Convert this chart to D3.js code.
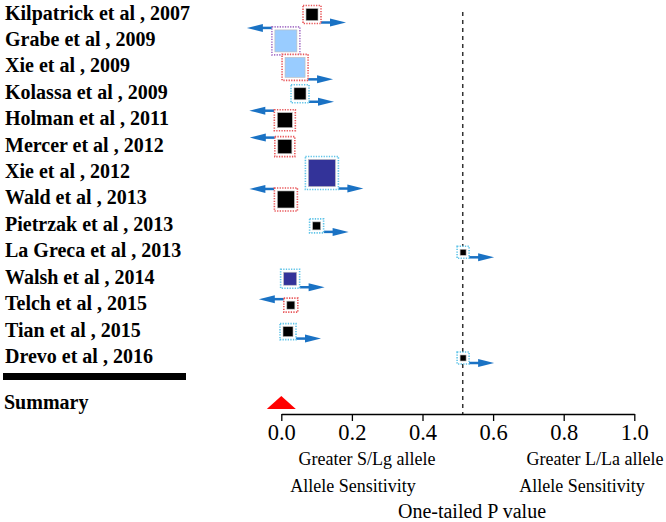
<!DOCTYPE html>
<html><head><meta charset="utf-8">
<script src="https://cdn.jsdelivr.net/npm/d3@7"></script>
<style>body{margin:0;background:#fff}svg{display:block}</style>
</head><body>
<script>
const studies = ["Kilpatrick et al , 2007","Grabe et al , 2009","Xie et al , 2009","Kolassa et al , 2009","Holman et al , 2011","Mercer et al , 2012","Xie et al , 2012","Wald et al , 2013","Pietrzak et al , 2013","La Greca et al , 2013","Walsh et al , 2014","Telch et al , 2015","Tian et al , 2015","Drevo et al , 2016"];
const pValues = [0.087,0.013,0.039,0.053,0.010,0.010,0.115,0.013,0.100,0.515,0.025,0.027,0.019,0.515];
const weights = [12,22,20,12,15,14,27,17,8,6,13,8,10,6];
const fillGroup = ["S","L","L","S","S","S","D","S","S","S","D","S","S","S"];
const boxGroup = ["r","p","r","c","r","r","c","r","c","c","c","r","c","c"];
const direction = ["right","left","right","right","left","left","right","left","right","right","right","left","right","right"];
const summaryP = 0.0;
const nullP = 0.514;
const xTicks = [0,0.2,0.4,0.6,0.8,1.0];

const W=666,H=522;
const svg=d3.select("body").append("svg").attr("width",W).attr("height",H);
const x=d3.scaleLinear().domain([0,1]).range([281.3,634.3]);
const y=d3.scalePoint().domain(studies).range([14.5,358]);
const size=d3.scaleLinear().domain([0,30]).range([0,30]);
const fillC=d3.scaleOrdinal().domain(["S","L","D"]).range(["#000000","#99ccff","#333399"]);
const boxC=d3.scaleOrdinal().domain(["r","p","c"]).range(["#e8575a","#a774c8","#5fc4e8"]);
const arrowC="#1a72c4";
const serif="Liberation Serif";

// labels
svg.append("g").selectAll("text").data(studies).join("text")
  .attr("x",5).attr("y",d=>y(d)+5).attr("font-family",serif).attr("font-weight","bold")
  .attr("font-size",20).attr("fill","#000").text(d=>d);
svg.append("rect").attr("x",3).attr("y",373).attr("width",183).attr("height",7).attr("fill","#000");
svg.append("text").attr("x",4).attr("y",409).attr("font-family",serif).attr("font-weight","bold")
  .attr("font-size",20).text("Summary");

// null line
svg.append("line").attr("x1",x(nullP)).attr("x2",x(nullP)).attr("y1",12).attr("y2",414)
  .attr("stroke","#333").attr("stroke-width",1.5).attr("stroke-dasharray","4,4");

const data=studies.map((s,i)=>({s,p:pValues[i],w:weights[i],f:fillGroup[i],b:boxGroup[i],d:direction[i]}));
const g=svg.append("g");
data.forEach(o=>{
  const cx=x(o.p), cy=y(o.s), sz=size(o.w), bs=sz+6;
  const ay = o.d==="right" ? cy+bs/2-1 : cy-bs/2+1;
  const sx = o.d==="right" ? cx+bs/2 : cx-bs/2;
  const dir = o.d==="right"?1:-1;
  const len=25, head=16, hw=4;
  g.append("line").attr("x1",sx).attr("x2",sx+dir*(len-head+1)).attr("y1",ay).attr("y2",ay)
    .attr("stroke",arrowC).attr("stroke-width",2.5);
  g.append("path").attr("d",`M${sx+dir*(len-head)},${ay-hw}L${sx+dir*len},${ay}L${sx+dir*(len-head)},${ay+hw}Z`)
    .attr("fill",arrowC);
  g.append("rect").attr("x",cx-bs/2).attr("y",cy-bs/2).attr("width",bs).attr("height",bs)
    .attr("fill","#fff").attr("stroke",boxC(o.b)).attr("stroke-width",1.6).attr("stroke-dasharray","1.3,1.3");
  g.append("rect").attr("x",cx-sz/2).attr("y",cy-sz/2).attr("width",sz).attr("height",sz)
    .attr("fill",fillC(o.f)).attr("stroke","#bbb").attr("stroke-width",0.6);
});

// summary triangle
const sx=x(summaryP);
svg.append("path").attr("d",`M${sx-14.5},409L${sx},396L${sx+14.5},409Z`).attr("fill","#ff0000");

// axis
const ax=svg.append("g").attr("transform","translate(0,414)")
  .call(d3.axisBottom(x).tickValues(xTicks).tickFormat(d3.format(".1f")).tickSize(7).tickSizeOuter(0));
ax.select(".domain").attr("stroke","#000").attr("stroke-width",1.3);
ax.selectAll(".tick line").attr("stroke","#000").attr("stroke-width",1.3);
ax.selectAll(".tick text").attr("font-family",serif).attr("font-size",22.5).attr("fill","#000").attr("dy",0).attr("y",26);

const ann=[["Greater S/Lg allele",367,465,18],["Allele Sensitivity",353,492,18],
  ["Greater L/La allele",595,465,18],["Allele Sensitivity",582,492,18],["One-tailed P value",472,518,20]];
svg.append("g").selectAll("text").data(ann).join("text")
  .attr("x",d=>d[1]).attr("y",d=>d[2]).attr("text-anchor","middle").attr("font-family",serif)
  .attr("font-size",d=>d[3]).attr("fill","#000").text(d=>d[0]);
</script>
</body></html>
